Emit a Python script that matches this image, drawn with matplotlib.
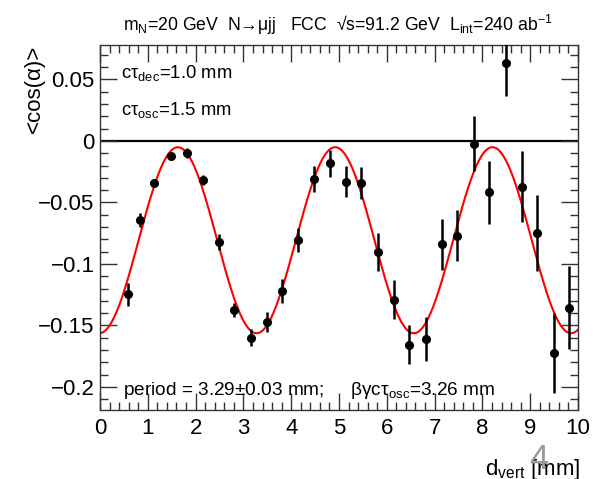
import numpy as np
import matplotlib
matplotlib.use("Agg")
import matplotlib.pyplot as plt
from matplotlib.ticker import MultipleLocator

plt.rcParams["font.family"] = ["Liberation Sans", "DejaVu Sans"]
plt.rcParams["mathtext.fontset"] = "custom"
plt.rcParams["mathtext.rm"] = "Liberation Sans"
plt.rcParams["mathtext.it"] = "Liberation Sans"
plt.rcParams["mathtext.bf"] = "Liberation Sans:bold"

# <cos(alpha)> profile versus decay-vertex distance
d_vert = [0.59, 0.84, 1.14, 1.49, 1.83, 2.15, 2.49, 2.81, 3.16, 3.49,
          3.81, 4.15, 4.48, 4.81, 5.15, 5.47, 5.82, 6.15, 6.47, 6.82,
          7.15, 7.47, 7.82, 8.14, 8.49, 8.82, 9.14, 9.49, 9.82]
mean_cos = [-0.1246, -0.0642, -0.0339, -0.0120, -0.0100, -0.0317, -0.0819,
            -0.1374, -0.1600, -0.1474, -0.1220, -0.0805, -0.0309, -0.0181,
            -0.0331, -0.0339, -0.0900, -0.1290, -0.1656, -0.1610, -0.0840,
            -0.0770, -0.0024, -0.0417, 0.0637, -0.0372, -0.0746, -0.1726,
            -0.1355]
err_cos = [0.0095, 0.0054, 0.0033, 0.0033, 0.0040, 0.0040, 0.0066, 0.0060,
           0.0070, 0.0080, 0.0095, 0.0095, 0.0104, 0.0108, 0.0125, 0.0130,
           0.0155, 0.0157, 0.0160, 0.0176, 0.0206, 0.0207, 0.0224, 0.0257,
           0.0270, 0.0290, 0.0310, 0.0325, 0.0340]

# oscillation fit: offset + amplitude * cos(2*pi*(x - x_peak)/period)
fit_period = 3.29
fit_period_err = 0.03
fit_offset = -0.0807
fit_amplitude = 0.0756
fit_peak = 1.63
bgct_osc = 3.26

W, H = 604, 479
fig = plt.figure(figsize=(W / 100, H / 100), dpi=100)
ax = fig.add_axes([100 / W, 1 - 410 / H, 478 / W, 365 / H])


def fpx(x, y):
    return x / W, 1 - y / H


ax.set_xlim(0, 10)
ax.set_ylim(-0.2187, 0.078)

ax.axhline(0, color="black", lw=1.6, zorder=1)

xs = np.linspace(0, 10, 400)
ax.plot(xs, fit_offset + fit_amplitude * np.cos(2 * np.pi * (xs - fit_peak) / fit_period),
        color="#ff0000", lw=1.5, zorder=2)

ax.errorbar(d_vert, mean_cos, yerr=err_cos, fmt="o", color="black",
            ms=5.5, elinewidth=1.8, capsize=0, zorder=3)

frame = "#333333"
for s in ax.spines.values():
    s.set_color(frame)
    s.set_linewidth(1.0)

ax.xaxis.set_major_locator(MultipleLocator(1))
ax.xaxis.set_minor_locator(MultipleLocator(0.2))
ax.yaxis.set_major_locator(MultipleLocator(0.05))
ax.yaxis.set_minor_locator(MultipleLocator(0.01))
ax.tick_params(which="both", direction="in", top=True, right=True, color=frame, width=1.0)
ax.tick_params(which="major", length=12, labelsize=16, pad=4)
ax.tick_params(which="minor", length=6)
ax.tick_params(axis="x", which="major", pad=6)


def ylab(v, pos):
    if abs(v) < 1e-9:
        return "0"
    s = f"{v:g}"
    return s.replace("-", "\u2212")


ax.yaxis.set_major_formatter(plt.FuncFormatter(ylab))

fig.text(*fpx(34, 45), "<cos(α)>", rotation=90, ha="center", va="top", fontsize=16)
fig.text(*fpx(580, 475), r"d$_{\mathrm{vert}}$ [mm]", ha="right", va="baseline", fontsize=16)
fig.text(*fpx(539, 469), "4", ha="center", va="baseline", fontsize=25, color="#9a9a9a")

fig.text(*fpx(123, 31), r"m$_{\mathrm{N}}$=20 GeV  N→μjj   FCC  √s=91.2 GeV  L$_{\mathrm{int}}$=240 ab$^{-1}$",
         ha="left", va="baseline", fontsize=12.7)

fig.text(*fpx(121, 78), r"cτ$_{\mathrm{dec}}$=1.0 mm", ha="left", va="baseline", fontsize=13.3)
fig.text(*fpx(121, 115), r"cτ$_{\mathrm{osc}}$=1.5 mm", ha="left", va="baseline", fontsize=13.3)
fig.text(*fpx(123, 395),
         rf"period = {fit_period:.2f}±{fit_period_err:.2f} mm;     βγcτ$_{{\mathrm{{osc}}}}$={bgct_osc:.2f} mm",
         ha="left", va="baseline", fontsize=13.7)

fig.savefig("out.png", dpi=100)
